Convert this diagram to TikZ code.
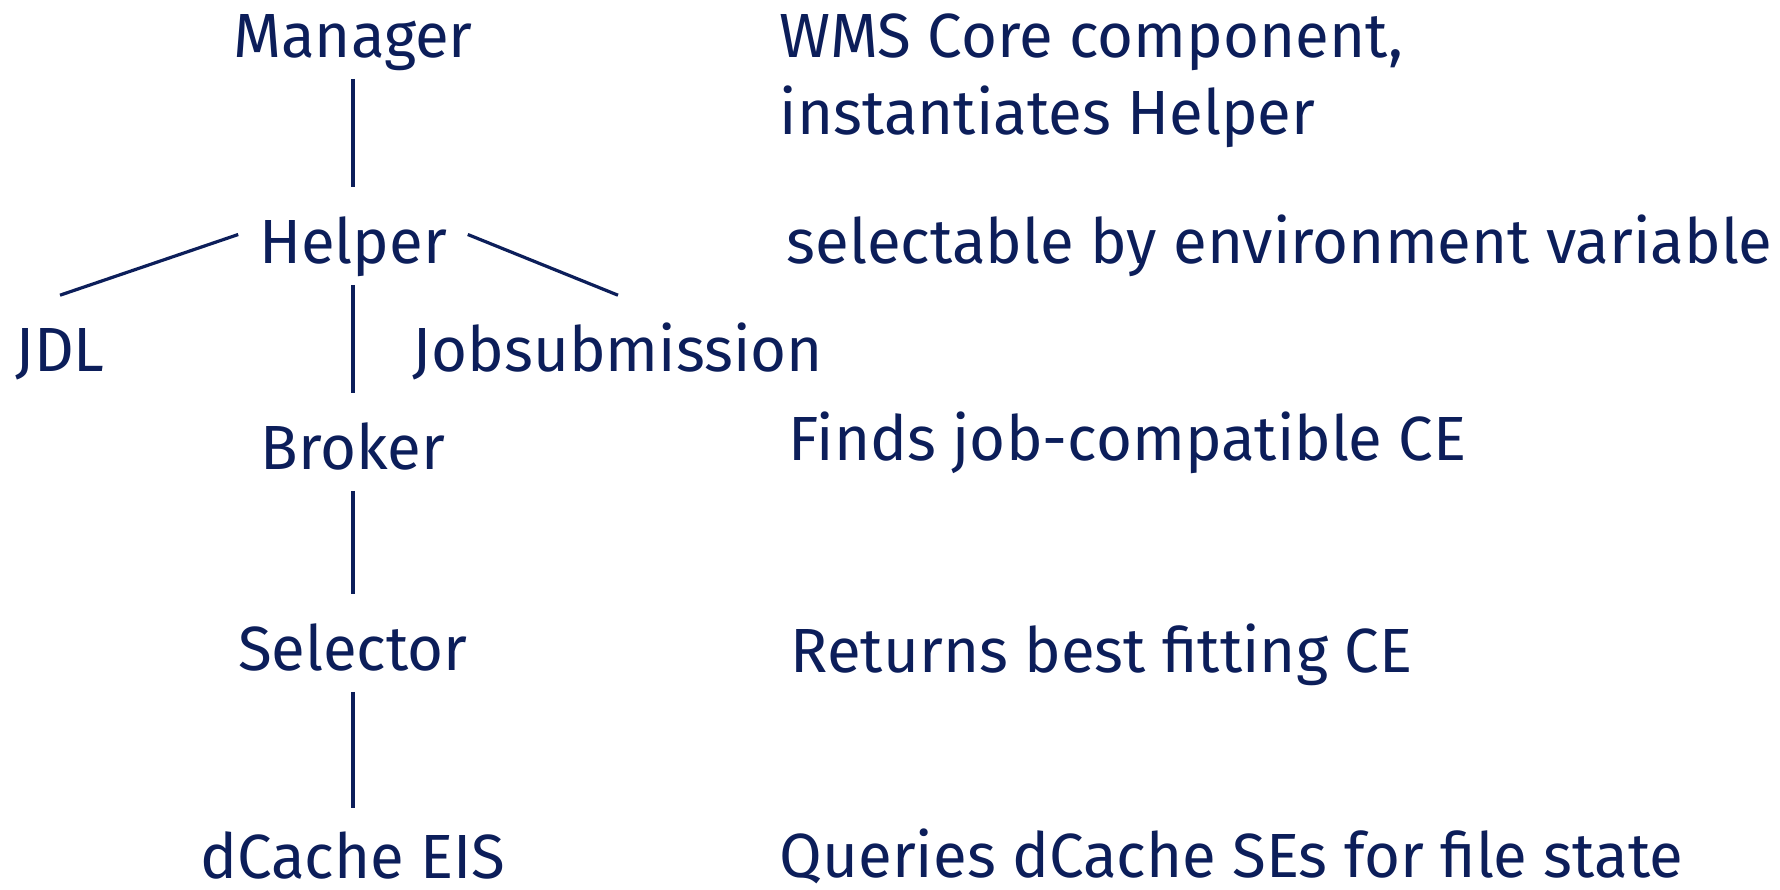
\documentclass[tikz,border=0pt]{standalone}
\usepackage{fontspec}
\setmainfont{Fira Sans}[FakeStretch=0.99]
\usetikzlibrary{calc}
\definecolor{navy}{RGB}{12,30,90}
\begin{document}
\begin{tikzpicture}[x=0.25pt,y=-0.25pt,
  lbl/.style={inner sep=0pt, text height=10.75pt, text depth=0pt, anchor=base,
    text=navy, font=\fontsize{15.6}{19}\selectfont},
  desc/.style={inner sep=0pt, anchor=base west, text=navy,
    font=\fontsize{15.6}{19}\selectfont},
  link/.style={draw=navy, line width=0.8pt, shorten <=5.25pt, shorten >=8pt},
  diag/.style={draw=navy, line width=0.8pt}]
  \fill[white] (0,0) rectangle (1780,890);

  % component tree
  \node[lbl] (manager)  at (353,57)  {Manager};
  \node[lbl] (helper)   at (353,263) {Helper};
  \node[lbl] (jdl)      at (60,371)  {JDL};
  \node[lbl] (jobsub)   at (618,371) {Jobsubmission};
  \node[lbl] (broker)   at (353,469) {Broker};
  \node[lbl] (selector) at (353,670) {Selector};
  \node[lbl] (dcache)   at (353,878) {dCache EIS};

  \draw[link] (manager.south) -- (helper.north);
  \draw[link] (helper.south) -- (broker.north);
  \draw[link] (broker.south) -- (selector.north);
  \draw[link, shorten >=6.5pt] (selector.south) -- (dcache.north);
  \draw[diag] ($(helper.west)+(-20,-7)$) -- ($(jdl.north)+(0,-32)$);
  \draw[diag] ($(helper.east)+(20,-7)$) -- ($(jobsub.north)+(0,-32)$);

  % descriptions
  \node[desc] (d1a) at (779,57)  {WMS Core component,};
  \node[desc] (d1b) at (779,134) {instantiates Helper};
  \node[desc] (d2)  at (786,263) {selectable by environment variable};
  \node[desc] (d3)  at (788,460) {Finds job-compatible CE};
  \node[desc] (d4)  at (790,672) {Returns best fitting CE};
  \node[desc] (d5)  at (779,877) {Queries dCache SEs for file state};
\end{tikzpicture}
\end{document}
